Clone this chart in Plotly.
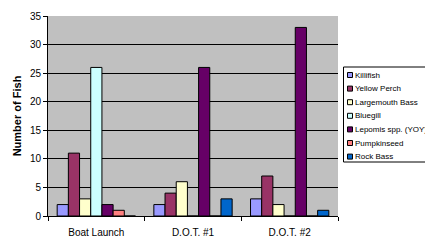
import plotly.graph_objects as go

sites = ["Boat Launch", "D.O.T. #1", "D.O.T. #2"]
species = ["Killifish", "Yellow Perch", "Largemouth Bass", "Bluegill",
           "Lepomis spp. (YOY)", "Pumpkinseed", "Rock Bass"]
counts = {
    "Killifish": [2, 2, 3],
    "Yellow Perch": [11, 4, 7],
    "Largemouth Bass": [3, 6, 2],
    "Bluegill": [26, 0, 0],
    "Lepomis spp. (YOY)": [2, 26, 33],
    "Pumpkinseed": [1, 0, 0],
    "Rock Bass": [0, 3, 1],
}
colors = ["#9999FF", "#993366", "#FFFFCC", "#CCFFFF", "#660066", "#FF8080", "#0066CC"]
y_ticks = [0, 5, 10, 15, 20, 25, 30, 35]

# page body has an 8px margin; work in reference (window) pixels and shift
OFF = 8
W, H = 433 - OFF, 244 - OFF
L, R, T, B = 48 - OFF, 433 - 338, 16 - OFF, 244 - 216
PW, PH = W - L - R, H - T - B

def px(x):
    return (x - OFF - L) / PW

def py(y):
    return (H - B - (y - OFF)) / PH

fig = go.Figure()
for sp, c in zip(species, colors):
    fig.add_trace(go.Bar(x=sites, y=counts[sp], name=sp, marker_color=c,
                         marker_line=dict(color="black", width=1)))

shapes = []
annotations = []
shapes.append(dict(type="rect", xref="paper", yref="paper",
                   x0=px(343.5), x1=px(432.5), y0=py(67), y1=py(162),
                   line=dict(color="black", width=1), fillcolor="white", layer="above"))
for i, (sp, c) in enumerate(zip(species, colors)):
    yc = 75 + i * 13.6
    shapes.append(dict(type="rect", xref="paper", yref="paper",
                       x0=px(347.5), x1=px(352.5), y0=py(yc - 2.5), y1=py(yc + 2.5),
                       line=dict(color="black", width=1), fillcolor=c, layer="above"))
    annotations.append(dict(xref="paper", yref="paper", x=px(352.5), y=py(yc),
                            xanchor="left", yanchor="middle", text=sp, showarrow=False,
                            font=dict(size=8)))

fig.update_layout(
    width=W, height=H,
    margin=dict(l=L, r=R, t=T, b=B, autoexpand=False),
    paper_bgcolor="white", plot_bgcolor="#C0C0C0",
    barmode="group", bargap=0.19, bargroupgap=0,
    font=dict(family="Arial, Liberation Sans, sans-serif", size=10, color="black"),
    showlegend=False,
    shapes=shapes, annotations=annotations,
)
fig.update_xaxes(showline=True, linecolor="black", linewidth=1, ticks="outside",
                 tickson="boundaries", ticklen=4, tickcolor="black",
                 mirror=False, showgrid=False, automargin=False, ticklabelstandoff=7)
fig.update_yaxes(range=[0, 35], tickvals=y_ticks, showline=True, linecolor="black",
                 linewidth=1, ticks="outside", ticklen=4, tickcolor="black",
                 gridcolor="black", gridwidth=1, zeroline=False, automargin=False,
                 title=dict(text="<b>Number of Fish</b>", font=dict(size=11), standoff=6))

fig.write_html("out.html")
